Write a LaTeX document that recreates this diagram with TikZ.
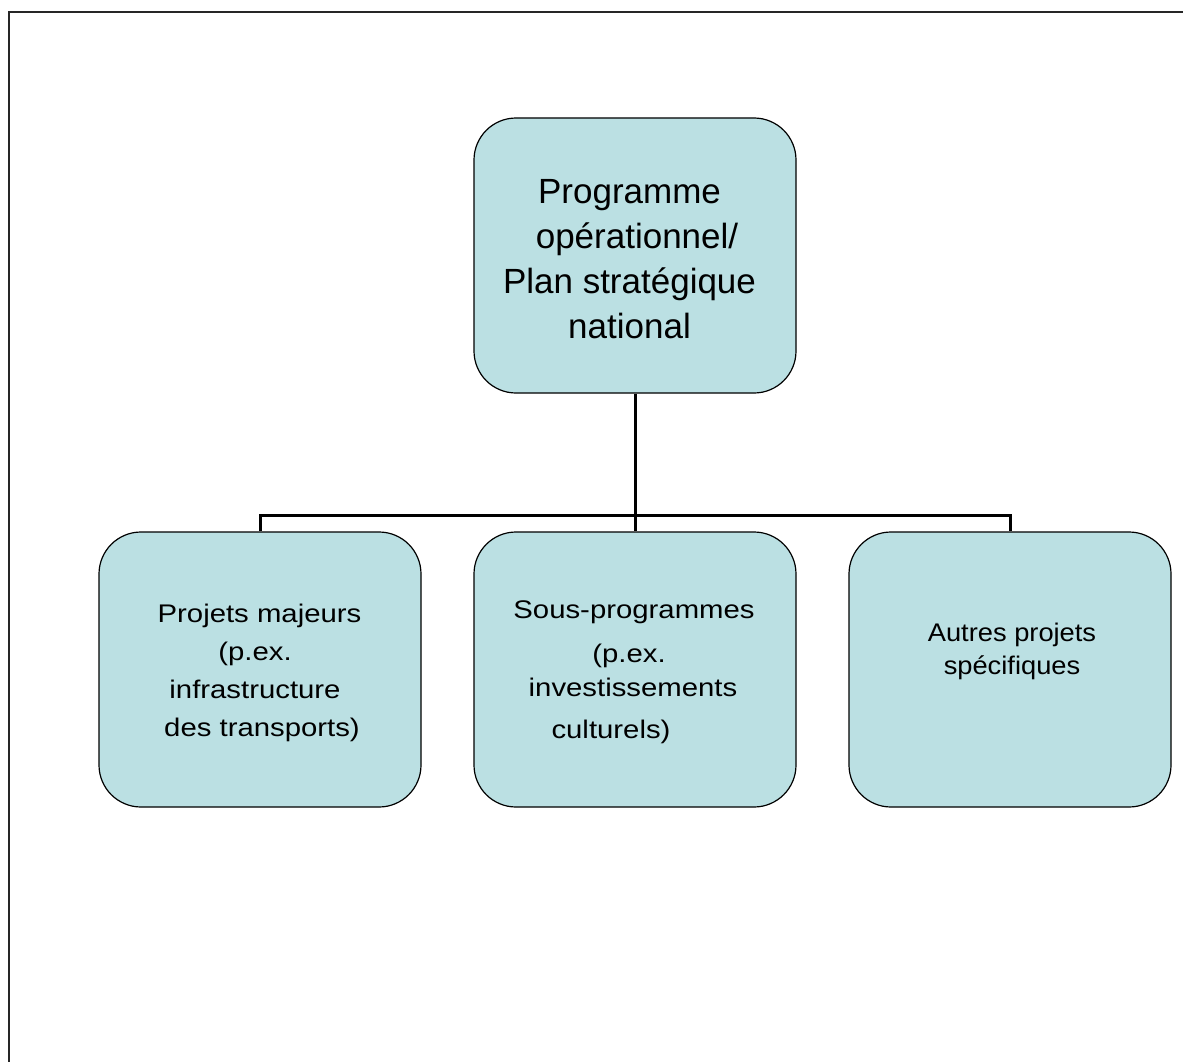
\documentclass[tikz,border=0pt]{standalone}
\usepackage{fontspec}
\setmainfont{Liberation Sans}
\newfontfamily\wideA[FakeStretch=1.15]{Liberation Sans}
\newfontfamily\wideB[FakeStretch=1.07]{Liberation Sans}
\definecolor{boxfill}{HTML}{BBE0E3}
\begin{document}
\begin{tikzpicture}[x=1pt,y=-1pt,
  box/.style={draw=black, line width=1.2pt, fill=boxfill, rounded corners=42pt,
    minimum width=322pt, minimum height=275pt, inner sep=0pt},
  bigtxt/.style={align=center, font=\fontsize{35}{45}\selectfont, inner sep=0pt},
  smalltxt/.style={align=center, font=\wideA\fontsize{25.5}{38}\selectfont, inner sep=0pt},
  smalltxtb/.style={align=center, font=\wideB\fontsize{25.5}{33}\selectfont, inner sep=0pt},
  conn/.style={line width=3pt}]
\useasboundingbox (0,0) rectangle (1183,1062);
\fill[white] (0,0) rectangle (1183,1062);
\draw[line width=2pt, black!85] (8.5,1062) -- (8.5,12.5) -- (1183,12.5);

\node[box] (top) at (635,255.5) {};
\node[box] (left) at (260,669.5) {};
\node[box] (mid) at (635,669.5) {};
\node[box] (right) at (1010,669.5) {};

\node[bigtxt] (toptxt) at (629.5,259.5) {Programme\\\hspace*{15pt}opérationnel/\\Plan stratégique\\national};
\node[smalltxt] (lefttxt) at (259.5,673) {Projets majeurs\\\hspace*{-9pt}(p.ex.\\\hspace*{-9pt}infrastructure\\\hspace*{5pt}des transports)};
\node[smalltxt] (midtxt) at (634,672) {Sous-programmes\\[6pt]\hspace*{-10pt}(p.ex.\\[-4pt]\hspace*{-2pt}investissements\\[4pt]\hspace*{-46pt}culturels)};
\node[smalltxtb] (righttxt) at (1012,651.5) {Autres projets\\spécifiques};

\coordinate (bus) at (635,515);
\draw[conn] (top.south) -- (bus);
\draw[conn] (left.north) |- (bus) -| (right.north);
\draw[conn] (bus) -- (mid.north);
\end{tikzpicture}
\end{document}
